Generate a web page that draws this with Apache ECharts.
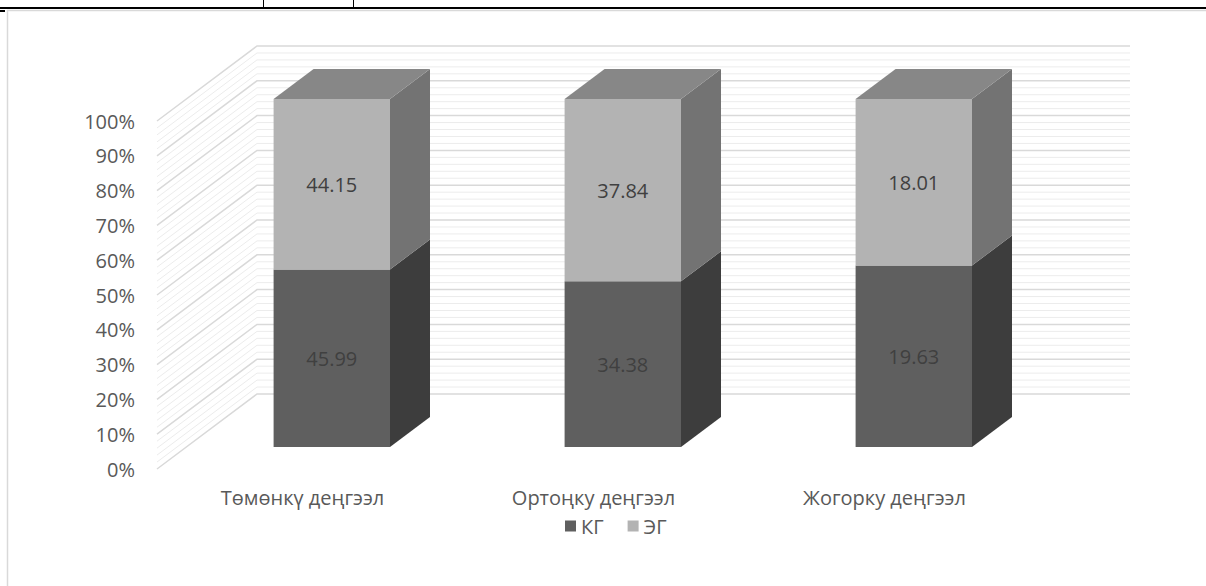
<!DOCTYPE html>
<html>
<head>
<meta charset="utf-8">
<script src="https://cdn.jsdelivr.net/npm/echarts@6/dist/echarts.min.js"></script>
<style>
  html, body { margin: 0; padding: 0; background: #ffffff; }
  #chart { width: 1206px; height: 586px; }
</style>
</head>
<body>
<div id="chart"></div>
<script>
// Categories and series values
const categories = ['Төмөнкү деңгээл', 'Ортоңку деңгээл', 'Жогорку деңгээл'];
const seriesNames = ['КГ', 'ЭГ'];
const kgValues = [45.99, 34.38, 19.63];
const egValues = [44.15, 37.84, 18.01];

// Projection of the 3D box: full wall depth vector, bar placement within it
const DEPTH_DX = 100;
const DEPTH_DY = -75;
const BAR_FRONT = 0.293;   // depth fraction where the bar front face sits
const BAR_DEPTH = 0.4;     // bar thickness as a fraction of full depth
const BAR_WIDTH = 0.4;     // bar width as a fraction of the category band

const FONT = '"Open Sans", "Noto Sans", sans-serif';

// 100% stacked shares
const totals = kgValues.map((v, i) => v + egValues[i]);
const kgPct = kgValues.map((v, i) => v / totals[i] * 100);
const kgData = kgValues.map((v, i) => [i, 0, kgPct[i], v]);
const egData = egValues.map((v, i) => [i, kgPct[i], 100, v]);

// Wall grid values: major every 10 %, minor every 2 %
const wallLines = [];
for (let v = 0; v <= 100; v += 2) wallLines.push([0, v]);

function renderWall(params, api) {
  const v = api.value(1);
  const cs = params.coordSys;
  const y = api.coord([0, v])[1];
  const x0 = cs.x, x1 = cs.x + cs.width;
  const major = v % 10 === 0;
  return {
    type: 'polyline',
    shape: { points: [[x0, y], [x0 + DEPTH_DX, y + DEPTH_DY], [x1 + DEPTH_DX, y + DEPTH_DY]] },
    style: { fill: null, stroke: major ? '#d9d9d9' : '#ececec', lineWidth: major ? 1.5 : 1 },
    z2: major ? 2 : 1
  };
}

function makeBoxRenderer(colors, withTop) {
  return function (params, api) {
    const cat = api.value(0);
    const lo = api.value(1);
    const hi = api.value(2);
    const raw = api.value(3);
    const pLo = api.coord([cat, lo]);
    const pHi = api.coord([cat, hi]);
    const band = api.size([1, 0])[0];
    const w = band * BAR_WIDTH;
    const ox = BAR_FRONT * DEPTH_DX, oy = BAR_FRONT * DEPTH_DY;
    const bx = BAR_DEPTH * DEPTH_DX, by = BAR_DEPTH * DEPTH_DY;
    const fx = pLo[0] + ox - w / 2;
    const yb = pLo[1] + oy;
    const yt = pHi[1] + oy;
    const children = [
      {
        type: 'polygon',
        shape: { points: [[fx + w, yb], [fx + w + bx, yb + by], [fx + w + bx, yt + by], [fx + w, yt]] },
        style: { fill: colors.side }
      },
      {
        type: 'rect',
        shape: { x: fx, y: yt, width: w, height: yb - yt },
        style: { fill: colors.front }
      }
    ];
    if (withTop) {
      children.push({
        type: 'polygon',
        shape: { points: [[fx, yt], [fx + bx, yt + by], [fx + w + bx, yt + by], [fx + w, yt]] },
        style: { fill: colors.top }
      });
    }
    children.push({
      type: 'text',
      style: {
        text: raw.toFixed(2),
        x: fx + w / 2,
        y: (yt + yb) / 2,
        align: 'center',
        verticalAlign: 'middle',
        fill: '#404040',
        font: '20px ' + FONT
      },
      z2: 10
    });
    return { type: 'group', children: children };
  };
}

const chart = echarts.init(document.getElementById('chart'), null, { renderer: 'svg' });

chart.setOption({
  animation: false,
  backgroundColor: '#ffffff',
  textStyle: { fontFamily: FONT },
  grid: { left: 157, right: 176, top: 121, bottom: 117, containLabel: false },
  xAxis: {
    type: 'category',
    data: categories,
    axisLine: { show: false },
    axisTick: { show: false },
    splitLine: { show: false },
    axisLabel: { color: '#595959', fontSize: 20, fontFamily: FONT, margin: 18 }
  },
  yAxis: {
    type: 'value',
    min: 0,
    max: 100,
    interval: 10,
    axisLine: { show: false },
    axisTick: { show: false },
    splitLine: { show: false },
    axisLabel: {
      color: '#595959', fontSize: 20, fontFamily: FONT, margin: 22,
      formatter: '{value}%'
    }
  },
  legend: {
    data: seriesNames,
    left: 560,
    top: 511,
    icon: 'rect',
    itemWidth: 11,
    itemHeight: 11,
    itemGap: 24,
    textStyle: { color: '#595959', fontSize: 20, fontFamily: FONT }
  },
  series: [
    {
      name: 'wall',
      type: 'custom',
      silent: true,
      renderItem: renderWall,
      data: wallLines,
      encode: { x: 0, y: 1 },
      z: 1
    },
    {
      name: seriesNames[0],
      type: 'custom',
      renderItem: makeBoxRenderer({ front: '#5f5f5f', side: '#3d3d3d', top: '#4a4a4a' }, false),
      itemStyle: { color: '#5f5f5f' },
      data: kgData,
      encode: { x: 0, y: [1, 2] },
      z: 3
    },
    {
      name: seriesNames[1],
      type: 'custom',
      renderItem: makeBoxRenderer({ front: '#b3b3b3', side: '#737373', top: '#878787' }, true),
      itemStyle: { color: '#b3b3b3' },
      data: egData,
      encode: { x: 0, y: [1, 2] },
      z: 3
    }
  ],
  graphic: [
    // page table rule above the chart frame
    { type: 'rect', shape: { x: 0, y: 7, width: 1206, height: 2 }, style: { fill: '#000000' }, silent: true },
    { type: 'line', shape: { x1: 263.5, y1: 0, x2: 263.5, y2: 8 }, style: { stroke: '#000000', lineWidth: 1 }, silent: true },
    { type: 'line', shape: { x1: 353.5, y1: 0, x2: 353.5, y2: 8 }, style: { stroke: '#000000', lineWidth: 1 }, silent: true },
    { type: 'rect', shape: { x: 0, y: 10, width: 5, height: 2 }, style: { fill: '#000000' }, silent: true },
    // chart frame
    { type: 'line', shape: { x1: 7, y1: 10.5, x2: 1206, y2: 10.5 }, style: { stroke: '#d9d9d9', lineWidth: 1.5 }, silent: true },
    { type: 'line', shape: { x1: 7.5, y1: 10, x2: 7.5, y2: 586 }, style: { stroke: '#d9d9d9', lineWidth: 1.5 }, silent: true }
  ]
});
</script>
</body>
</html>
